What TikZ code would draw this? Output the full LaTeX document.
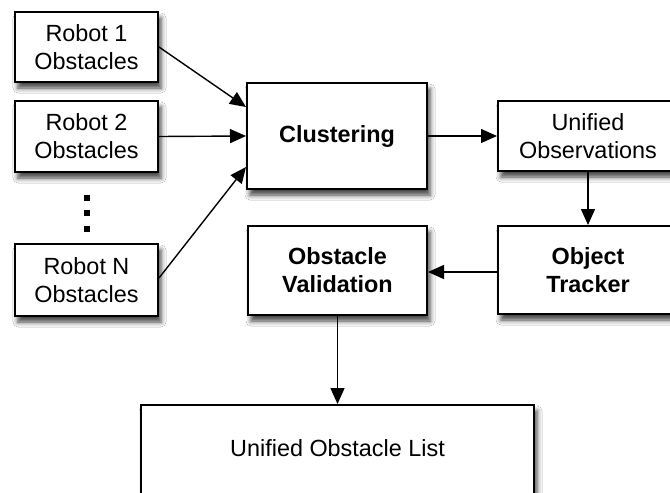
\documentclass[tikz,border=0pt]{standalone}
\usepackage{fontspec}
\setmainfont{Liberation Sans}
\usetikzlibrary{arrows.meta,calc,shadows.blur}
\begin{document}
\begin{tikzpicture}[x=0.5pt,y=-0.5pt,
  box/.style={draw=black, line width=1pt, fill=white, inner sep=0pt, align=center,
    font=\fontsize{11.7}{14}\selectfont,
    blur shadow={shadow xshift=1.5pt, shadow yshift=-3pt, shadow blur radius=2.5pt, shadow opacity=75}},
  conn/.style={line width=0.7pt, -{Triangle[length=8pt,width=7pt]}},
  dot/.style={fill=black}]
\clip (0,0) rectangle (670,493);
\fill[white] (0,0) rectangle (670,493);
\node[box, minimum width=71.5pt, minimum height=35pt] (r1) at (86.5,47) {Robot 1\\Obstacles};
\node[box, minimum width=71.5pt, minimum height=35.5pt] (r2) at (86.5,136.5) {Robot 2\\Obstacles};
\node[box, minimum width=71.5pt, minimum height=36pt] (rn) at (86.5,280) {Robot N\\Obstacles};
\node[box, minimum width=90pt, minimum height=53pt, font=\fontsize{11.7}{14}\selectfont\bfseries] (cl) at (337,136) {Clustering};
\node[box, minimum width=90pt, minimum height=35pt] (uo) at (588,136) {Unified\\Observations};
\node[box, minimum width=90pt, minimum height=44pt, font=\fontsize{11.7}{14}\selectfont\bfseries] (ot) at (588,270) {Object\\Tracker};
\node[box, minimum width=89.5pt, minimum height=44.5pt, font=\fontsize{11.7}{14}\selectfont\bfseries] (ov) at (337.5,270.5) {Obstacle\\Validation};
\node[box, minimum width=196.5pt, minimum height=52.5pt, text depth=9.5pt] (ul) at (337.5,457.5) {Unified Obstacle List};
\fill[dot] (84,195) rectangle (90,201);
\fill[dot] (84,210) rectangle (90,216);
\fill[dot] (84,226) rectangle (90,232);
\draw[conn] (r1.east) -- ($(cl.west)+(0,-29)$);
\draw[conn] (r2.east) -- (cl.west);
\draw[conn] ($(rn.east)+(0,-2)$) -- ($(cl.west)+(0,31)$);
\draw[conn] (cl.east) -- (uo.west);
\draw[conn] (uo.south) -- (ot.north);
\draw[conn] ($(ot.west)+(0,2)$) -- ($(ov.east)+(0,1.5)$);
\draw[conn] (ov.south) -- (ul.north);
\end{tikzpicture}
\end{document}
